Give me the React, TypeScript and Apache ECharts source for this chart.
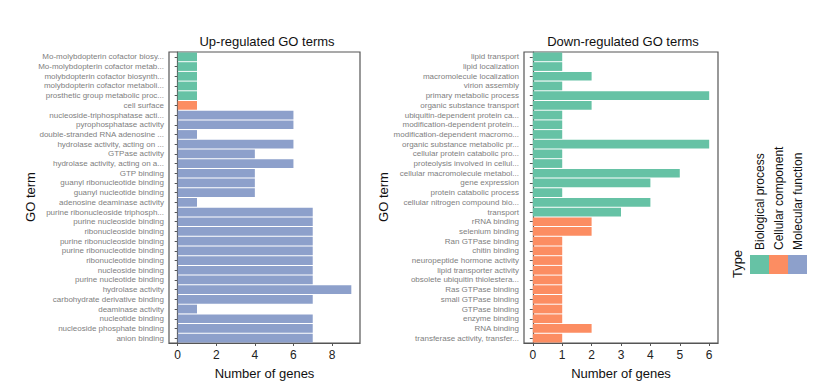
import React, { useEffect, useRef } from "react";
import * as echarts from "echarts";

const upTerms = [
  "Mo-molybdopterin cofactor biosy...",
  "Mo-molybdopterin cofactor metab...",
  "molybdopterin cofactor biosynth...",
  "molybdopterin cofactor metaboli...",
  "prosthetic group metabolic proc...",
  "cell surface",
  "nucleoside-triphosphatase acti...",
  "pyrophosphatase activity",
  "double-stranded RNA adenosine ...",
  "hydrolase activity, acting on ...",
  "GTPase activity",
  "hydrolase activity, acting on a...",
  "GTP binding",
  "guanyl ribonucleotide binding",
  "guanyl nucleotide binding",
  "adenosine deaminase activity",
  "purine ribonucleoside triphosph...",
  "purine nucleoside binding",
  "ribonucleoside binding",
  "purine ribonucleoside binding",
  "purine ribonucleotide binding",
  "ribonucleotide binding",
  "nucleoside binding",
  "purine nucleotide binding",
  "hydrolase activity",
  "carbohydrate derivative binding",
  "deaminase activity",
  "nucleotide binding",
  "nucleoside phosphate binding",
  "anion binding",
];
const upCounts = [1, 1, 1, 1, 1, 1, 6, 6, 1, 6, 4, 6, 4, 4, 4, 1, 7, 7, 7, 7, 7, 7, 7, 7, 9, 7, 1, 7, 7, 7];
const upTypes = [0, 0, 0, 0, 0, 1, 2, 2, 2, 2, 2, 2, 2, 2, 2, 2, 2, 2, 2, 2, 2, 2, 2, 2, 2, 2, 2, 2, 2, 2];

const downTerms = [
  "lipid transport",
  "lipid localization",
  "macromolecule localization",
  "virion assembly",
  "primary metabolic process",
  "organic substance transport",
  "ubiquitin-dependent protein ca...",
  "modification-dependent protein...",
  "modification-dependent macromo...",
  "organic substance metabolic pr...",
  "cellular protein catabolic pro...",
  "proteolysis involved in cellul...",
  "cellular macromolecule metabol...",
  "gene expression",
  "protein catabolic process",
  "cellular nitrogen compound bio...",
  "transport",
  "rRNA binding",
  "selenium binding",
  "Ran GTPase binding",
  "chitin binding",
  "neuropeptide hormone activity",
  "lipid transporter activity",
  "obsolete ubiquitin thiolestera...",
  "Ras GTPase binding",
  "small GTPase binding",
  "GTPase binding",
  "enzyme binding",
  "RNA binding",
  "transferase activity, transfer...",
];
const downCounts = [1, 1, 2, 1, 6, 2, 1, 1, 1, 6, 1, 1, 5, 4, 1, 4, 3, 2, 2, 1, 1, 1, 1, 1, 1, 1, 1, 1, 2, 1];
const downTypes = [0, 0, 0, 0, 0, 0, 0, 0, 0, 0, 0, 0, 0, 0, 0, 0, 0, 1, 1, 1, 1, 1, 1, 1, 1, 1, 1, 1, 1, 1];

const typeNames = ["Biological process", "Cellular component", "Molecular function"];
const typeColors = ["#66c2a5", "#fc8d62", "#8da0cb"];

const upTicks = [0, 2, 4, 6, 8];
const downTicks = [0, 1, 2, 3, 4, 5, 6];

const FONT = "Liberation Sans, Arial, sans-serif";

export default function App() {
  const ref = useRef<HTMLDivElement>(null);
  useEffect(() => {
    const chart = echarts.init(ref.current!, null, { renderer: "svg" });
    const yAxisBase = (gridIndex: number, data: string[]) => ({
      type: "category",
      gridIndex,
      data,
      inverse: true,
      axisLine: { show: true, lineStyle: { color: "#555", width: 1.2 } },
      axisTick: { show: true, length: 3, interval: 0, alignWithLabel: true, lineStyle: { color: "#555" } },
      axisLabel: { fontSize: 8, interval: 0, color: "#808080", fontFamily: FONT, margin: 5 },
    });
    const xAxisBase = (gridIndex: number, min: number, max: number, ticks: number[]) => ({
      type: "value",
      gridIndex,
      min,
      max,
      splitLine: { show: false },
      axisLine: { show: true, onZero: false, lineStyle: { color: "#555", width: 1.2 } },
      axisTick: { show: true, length: 3, customValues: ticks, lineStyle: { color: "#555" } },
      axisLabel: { fontSize: 12, color: "#222", fontFamily: FONT, customValues: ticks, margin: 6 },
      name: "Number of genes",
      nameLocation: "middle",
      nameGap: 24,
      nameTextStyle: { fontSize: 13, color: "#111", fontFamily: FONT },
    });
    const mkData = (counts: number[], types: number[]) =>
      counts.map((v, i) => ({ value: v, itemStyle: { color: typeColors[types[i]] } }));

    const legendX = 750;
    const legendGraphics: any[] = [];
    typeNames.forEach((n, i) => {
      legendGraphics.push({
        type: "rect",
        shape: { x: legendX + i * 19, y: 255, width: 19, height: 19 },
        style: { fill: typeColors[i] },
      });
      legendGraphics.push({
        type: "text",
        x: legendX + i * 19 + 9.5,
        y: 250,
        rotation: Math.PI / 2,
        style: { text: n, fontSize: 12, fontFamily: FONT, fill: "#111", align: "left", verticalAlign: "middle" },
      });
    });

    chart.setOption({
      animation: false,
      grid: [
        { left: 169, right: 467, top: 52, bottom: 48, show: true, borderColor: "#555", borderWidth: 1.2, containLabel: false },
        { left: 524, right: 109, top: 52, bottom: 48, show: true, borderColor: "#555", borderWidth: 1.2, containLabel: false },
      ],
      xAxis: [xAxisBase(0, -0.45, 9.45, upTicks), xAxisBase(1, -0.3, 6.3, downTicks)],
      yAxis: [yAxisBase(0, upTerms), yAxisBase(1, downTerms)],
      series: [
        {
          type: "bar",
          xAxisIndex: 0,
          yAxisIndex: 0,
          data: mkData(upCounts, upTypes),
          barCategoryGap: "10%",
        },
        {
          type: "bar",
          xAxisIndex: 1,
          yAxisIndex: 1,
          data: mkData(downCounts, downTypes),
          barCategoryGap: "10%",
        },
      ],
      graphic: [
        {
          type: "text",
          x: 267,
          y: 41,
          style: { text: "Up-regulated GO terms", fontSize: 13, fontFamily: FONT, fill: "#111", align: "center", verticalAlign: "middle" },
        },
        {
          type: "text",
          x: 623,
          y: 41,
          style: { text: "Down-regulated GO terms", fontSize: 13, fontFamily: FONT, fill: "#111", align: "center", verticalAlign: "middle" },
        },
        {
          type: "text",
          x: 30,
          y: 197,
          rotation: Math.PI / 2,
          style: { text: "GO term", fontSize: 13, fontFamily: FONT, fill: "#111", align: "center", verticalAlign: "middle" },
        },
        {
          type: "text",
          x: 383,
          y: 197,
          rotation: Math.PI / 2,
          style: { text: "GO term", fontSize: 13, fontFamily: FONT, fill: "#111", align: "center", verticalAlign: "middle" },
        },
        {
          type: "text",
          x: 737,
          y: 264,
          rotation: Math.PI / 2,
          style: { text: "Type", fontSize: 13, fontFamily: FONT, fill: "#111", align: "center", verticalAlign: "middle" },
        },
        ...legendGraphics,
      ],
    });
    return () => chart.dispose();
  }, []);
  return <div ref={ref} style={{ width: 827, height: 391, position: "absolute", left: 0, top: 0 }} />;
}
